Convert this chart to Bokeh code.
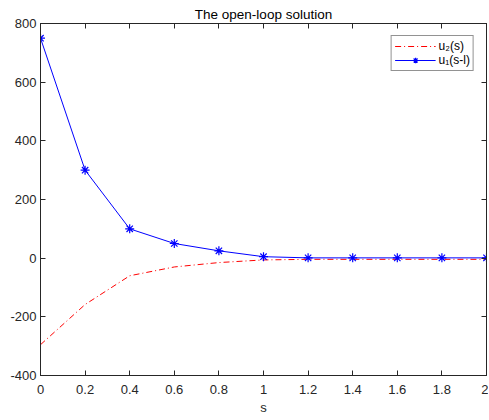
from bokeh.plotting import figure
from bokeh.models import FixedTicker, LinearAxis, Range1d, Legend, LegendItem
from bokeh.embed import file_html
from bokeh.resources import INLINE

s = [0, 0.2, 0.4, 0.6, 0.8, 1.0, 1.2, 1.4, 1.6, 1.8, 2.0]
u2 = [-295, -158, -60, -30, -15, -6, -4, -4, -4, -4, -4]
u1 = [750, 300, 100, 50, 25, 5, 1, 1, 1, 1, 1]
x_ticks = [0, 0.2, 0.4, 0.6, 0.8, 1, 1.2, 1.4, 1.6, 1.8, 2]
y_ticks = [-400, -200, 0, 200, 400, 600, 800]
title_text = "The open-loop solution"

FONT = "Liberation Sans"
AX = "#262626"

p = figure(frame_width=446, frame_height=352, output_backend="svg", toolbar_location=None,
           x_range=Range1d(0, 2), y_range=Range1d(-400, 800), title=title_text)
p.min_border_left = 40
p.min_border_right = 2
p.min_border_top = 23
p.min_border_bottom = 4
p.xgrid.visible = False
p.ygrid.visible = False
p.outline_line_color = AX
p.outline_line_width = 1

p.title.align = "center"
p.title.text_font = FONT
p.title.text_font_size = "13.5px"
p.title.text_font_style = "normal"
p.title.text_color = "#000000"
p.title.standoff = 3

for ax in (p.xaxis[0], p.yaxis[0]):
    ax.major_tick_in = 5
    ax.major_tick_out = 0
    ax.minor_tick_line_color = None
    ax.axis_line_color = AX
    ax.major_tick_line_color = AX
    ax.major_label_text_font = FONT
    ax.major_label_text_font_size = "13px"
    ax.major_label_text_color = AX
    ax.axis_label_text_font = FONT
    ax.axis_label_text_font_size = "13px"
    ax.axis_label_text_font_style = "normal"
    ax.axis_label_text_color = AX

p.xaxis.ticker = FixedTicker(ticks=x_ticks)
p.yaxis.ticker = FixedTicker(ticks=y_ticks)
p.xaxis.major_label_overrides = {0: "0", 1: "1", 2: "2"}
p.yaxis.major_label_overrides = {-400: "-400", -200: "-200", 0: "0"}
p.xaxis.axis_label = "s"
p.xaxis.axis_label_standoff = 3
p.yaxis.major_label_standoff = 4
p.xaxis.major_label_standoff = 9

top = LinearAxis(ticker=FixedTicker(ticks=x_ticks), major_tick_in=5, major_tick_out=0,
                 minor_tick_line_color=None, major_label_standoff=0,
                 major_label_text_font_size="2px",
                 major_label_overrides={t: "" for t in x_ticks},
                 axis_line_color=AX, major_tick_line_color=AX)
right = LinearAxis(ticker=FixedTicker(ticks=y_ticks), major_tick_in=5, major_tick_out=0,
                   minor_tick_line_color=None, major_label_standoff=0,
                   major_label_text_font_size="2px",
                   major_label_overrides={t: "" for t in y_ticks},
                   axis_line_color=AX, major_tick_line_color=AX)
p.add_layout(top, "above")
p.add_layout(right, "right")

r2 = p.line(s, u2, line_color="#ff0000", line_width=1, line_dash="6 3 1 3")
r1 = p.line(s, u1, line_color="#0000ff", line_width=1)
m1 = p.scatter(s, u1, marker="asterisk", size=9, line_color="#0000ff", line_width=1.2)

legend = Legend(items=[LegendItem(label="u\u2082(s)", renderers=[r2]),
                       LegendItem(label="u\u2081(s-l)", renderers=[r1, m1])],
                location="top_right")
legend.label_text_font = FONT
legend.label_text_font_size = "12px"
legend.label_text_color = "#000000"
legend.border_line_color = AX
legend.border_line_width = 1
legend.glyph_width = 41
legend.glyph_height = 14
legend.label_height = 14
legend.spacing = 0
legend.padding = 3
legend.margin = 12
legend.label_standoff = 3
p.add_layout(legend)

open("out.html", "w").write(file_html(p, INLINE))
